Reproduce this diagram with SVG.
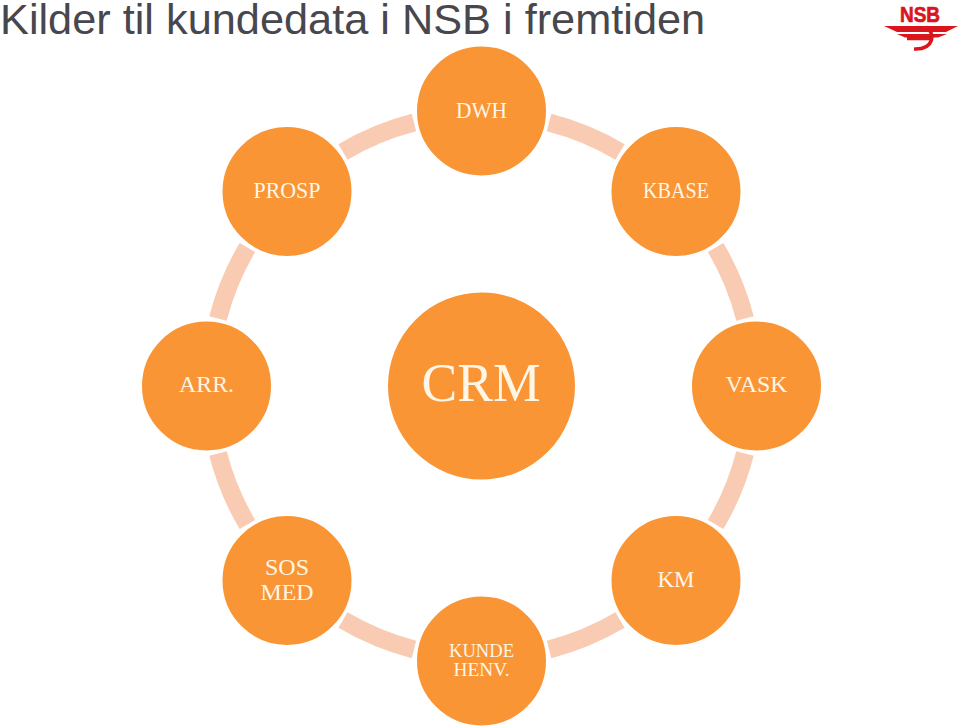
<svg xmlns="http://www.w3.org/2000/svg" width="960" height="727" viewBox="0 0 960 727">
  <style>
    .link { fill: none; stroke: #F9CBB2; stroke-width: 18; }
    .disc { fill: #F99535; stroke: #FFFFFF; stroke-width: 3; }
    .label { font-family: "Liberation Serif", "Times New Roman", serif; font-size: 23px; fill: #FFF6E6; text-anchor: middle; }
    .small { font-size: 19.5px; }
    .title { font-family: "Liberation Sans", Arial, sans-serif; font-size: 43.3px; fill: #47474D; }
    .red { fill: #D9161C; }
  </style>
  <rect width="960" height="727" fill="#FFFFFF"/>
  <text class="title" x="0" y="34">Kilder til kundedata i NSB i fremtiden</text>

  <g id="logo">
    <text x="920" y="22" text-anchor="middle" class="red" stroke="#D9161C" stroke-width="0.7" style="font-family:'Liberation Sans',Arial,sans-serif;font-weight:bold;font-size:22px" textLength="40" lengthAdjust="spacingAndGlyphs">NSB</text>
    <path class="red" d="M884 26 H958 L946 32 H897 Z"/>
    <path class="red" d="M897 34 H947 L938 37.5 H905 Z"/>
    <path fill="none" stroke="#D9161C" stroke-width="3.6" d="M907 38.5 H930 M926 27 C936 33 934 50 914 49"/>
  </g>

  <g id="connectors">
    <path class="link" d="M549.1 122.5 A272 272 0 0 1 620 151.9"/>
    <path class="link" d="M715.6 247.5 A272 272 0 0 1 745 318.4"/>
    <path class="link" d="M745 453.6 A272 272 0 0 1 715.6 524.5"/>
    <path class="link" d="M620 620.1 A272 272 0 0 1 549.1 649.5"/>
    <path class="link" d="M413.9 649.5 A272 272 0 0 1 343 620.1"/>
    <path class="link" d="M247.4 524.5 A272 272 0 0 1 218 453.6"/>
    <path class="link" d="M218 318.4 A272 272 0 0 1 247.4 247.5"/>
    <path class="link" d="M343 151.9 A272 272 0 0 1 413.9 122.5"/>
  </g>

  <g id="crm">
    <circle class="disc" cx="481.5" cy="386" r="95"/>
    <text class="label" x="481" y="401" style="font-size:55px" textLength="119" lengthAdjust="spacingAndGlyphs">CRM</text>
  </g>
  <g id="dwh">
    <circle class="disc" cx="481.5" cy="111" r="66"/>
    <text class="label" x="481.5" y="118" textLength="51" lengthAdjust="spacingAndGlyphs">DWH</text>
  </g>
  <g id="kbase">
    <circle class="disc" cx="676" cy="191.5" r="66"/>
    <text class="label" x="676" y="198" textLength="66" lengthAdjust="spacingAndGlyphs">KBASE</text>
  </g>
  <g id="vask">
    <circle class="disc" cx="756.5" cy="386" r="66"/>
    <text class="label" x="756.5" y="392" textLength="62" lengthAdjust="spacingAndGlyphs">VASK</text>
  </g>
  <g id="km">
    <circle class="disc" cx="676" cy="580.5" r="66"/>
    <text class="label" x="676" y="587" textLength="37" lengthAdjust="spacingAndGlyphs">KM</text>
  </g>
  <g id="kunde">
    <circle class="disc" cx="481.5" cy="661" r="66"/>
    <text class="label small" x="481.5" y="657" textLength="65" lengthAdjust="spacingAndGlyphs">KUNDE</text>
    <text class="label small" x="481.5" y="676" textLength="56" lengthAdjust="spacingAndGlyphs">HENV.</text>
  </g>
  <g id="sos">
    <circle class="disc" cx="287" cy="580.5" r="66"/>
    <text class="label" x="287" y="575" textLength="44" lengthAdjust="spacingAndGlyphs">SOS</text>
    <text class="label" x="287" y="600" textLength="53" lengthAdjust="spacingAndGlyphs">MED</text>
  </g>
  <g id="arr">
    <circle class="disc" cx="206.5" cy="386" r="66"/>
    <text class="label" x="206.5" y="392" textLength="55" lengthAdjust="spacingAndGlyphs">ARR.</text>
  </g>
  <g id="prosp">
    <circle class="disc" cx="287" cy="191.5" r="66"/>
    <text class="label" x="287" y="198" textLength="67" lengthAdjust="spacingAndGlyphs">PROSP</text>
  </g>
</svg>
